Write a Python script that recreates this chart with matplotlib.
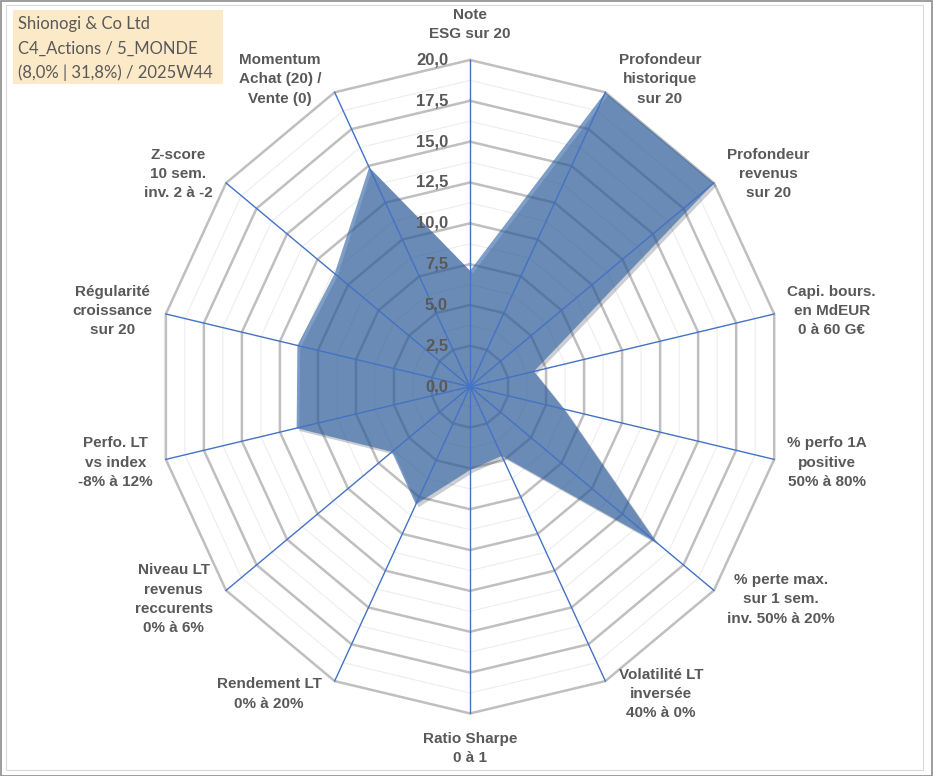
import numpy as np
import matplotlib.pyplot as plt
from matplotlib.patches import Rectangle
import matplotlib.patheffects as pe

# axes, clockwise from the top
labels = [
    "Note\nESG sur 20",
    "Profondeur\nhistorique\nsur 20",
    "Profondeur\nrevenus\nsur 20",
    "Capi. bours.\nen MdEUR\n0 à 60 G€",
    "% perfo 1A\npositive\n50% à 80%",
    "% perte max.\nsur 1 sem.\ninv. 50% à 20%",
    "Volatilité LT\ninversée\n40% à 0%",
    "Ratio Sharpe\n0 à 1",
    "Rendement LT\n0% à 20%",
    "Niveau LT\nrevenus\nreccurents\n0% à 6%",
    "Perfo. LT\nvs index\n-8% à 12%",
    "Régularité\ncroissance\nsur 20",
    "Z-score\n10 sem.\ninv. 2 à -2",
    "Momentum\nAchat (20) /\nVente (0)",
]
values = [7.1, 20.0, 20.0, 4.2, 6.2, 15.3, 4.7, 5.1, 8.0, 6.4, 11.4, 11.35, 11.1, 14.9]
ticks = [0.0, 2.5, 5.0, 7.5, 10.0, 12.5, 15.0, 17.5, 20.0]
minor_ticks = [1.25, 3.75, 6.25, 8.75, 11.25, 13.75, 16.25, 18.75]
title_lines = ["Shionogi & Co Ltd", "C4_Actions / 5_MONDE", "(8,0% | 31,8%) / 2025W44"]

rmax = 20.0
grey_txt = '#595959'
n = len(labels)
theta = np.arange(n) * 2 * np.pi / n
sx, sy = np.sin(theta), np.cos(theta)

W, H = 933, 776
fig = plt.figure(figsize=(W / 100, H / 100), dpi=100)
ax = fig.add_axes([0, 0, 1, 1])
ax.set_xlim(-30.13, 29.68)
ax.set_ylim(-23.83, 23.67)
ax.axis('off')

def ring(r):
    xs = np.append(r * sx, r * sx[0])
    ys = np.append(r * sy, r * sy[0])
    return xs, ys

# grid
for r in minor_ticks:
    xs, ys = ring(r)
    ax.plot(xs, ys, color='#EDEDED', lw=0.8, zorder=1)
for r in ticks[1:]:
    xs, ys = ring(r)
    ax.plot(xs, ys, color='#BFBFBF', lw=1.8, zorder=2)

# series
vx = np.array(values) * sx
vy = np.array(values) * sy
ax.fill(vx, vy, color='#2F63A6', alpha=0.62, lw=0, zorder=3,
        path_effects=[pe.SimplePatchShadow(offset=(2, -2), alpha=0.22), pe.Normal()])

# spokes
for i in range(n):
    ax.plot([0, rmax * sx[i]], [0, rmax * sy[i]], color='#4472C4', lw=1.0, zorder=4)

# radial tick labels
for t in ticks:
    ax.text(-1.41, t, f"{t:.1f}".replace('.', ','), ha='right', va='center',
            fontsize=12, fontweight='bold', color=grey_txt,
            family='Liberation Sans', zorder=5)

# category labels
for i, lab in enumerate(labels):
    ex, ey = rmax * sx[i], rmax * sy[i]
    if abs(sx[i]) < 0.05:
        x, y, ha = 0.0, ey + 2.15 * np.sign(sy[i]), 'center'
    else:
        x = ex + 0.85 * np.sign(sx[i])
        y = ey + 0.88 * sy[i]
        ha = 'left' if sx[i] > 0 else 'right'
    ax.text(x, y, lab, ha=ha, va='center', multialignment='center',
            fontsize=11, fontweight='bold', color=grey_txt,
            family='Liberation Sans', linespacing=1.48)

# title box
fig.patches.append(Rectangle((13 / W, 1 - 84 / H), 210 / W, 74 / H,
                             transform=fig.transFigure, fc='#FCE9C7', ec='none', zorder=0))
for k, line in enumerate(title_lines):
    fig.text(18 / W, 1 - (24 + 24.3 * k) / H, line, ha='left', va='center',
             fontsize=12, color=grey_txt, family='Lato')

# frame
fig.patches.append(Rectangle((0.5 / W, 0.5 / H), 1 - 1.5 / W, 1 - 1.5 / H,
                             transform=fig.transFigure, fill=False, ec='#8C8C8C', lw=1.2))
fig.patches.append(Rectangle((6 / W, 6 / H), (923 - 6) / W, (770 - 5) / H,
                             transform=fig.transFigure, fill=False, ec='#D9D9D9', lw=0.8))

fig.savefig('out.png', dpi=100)
